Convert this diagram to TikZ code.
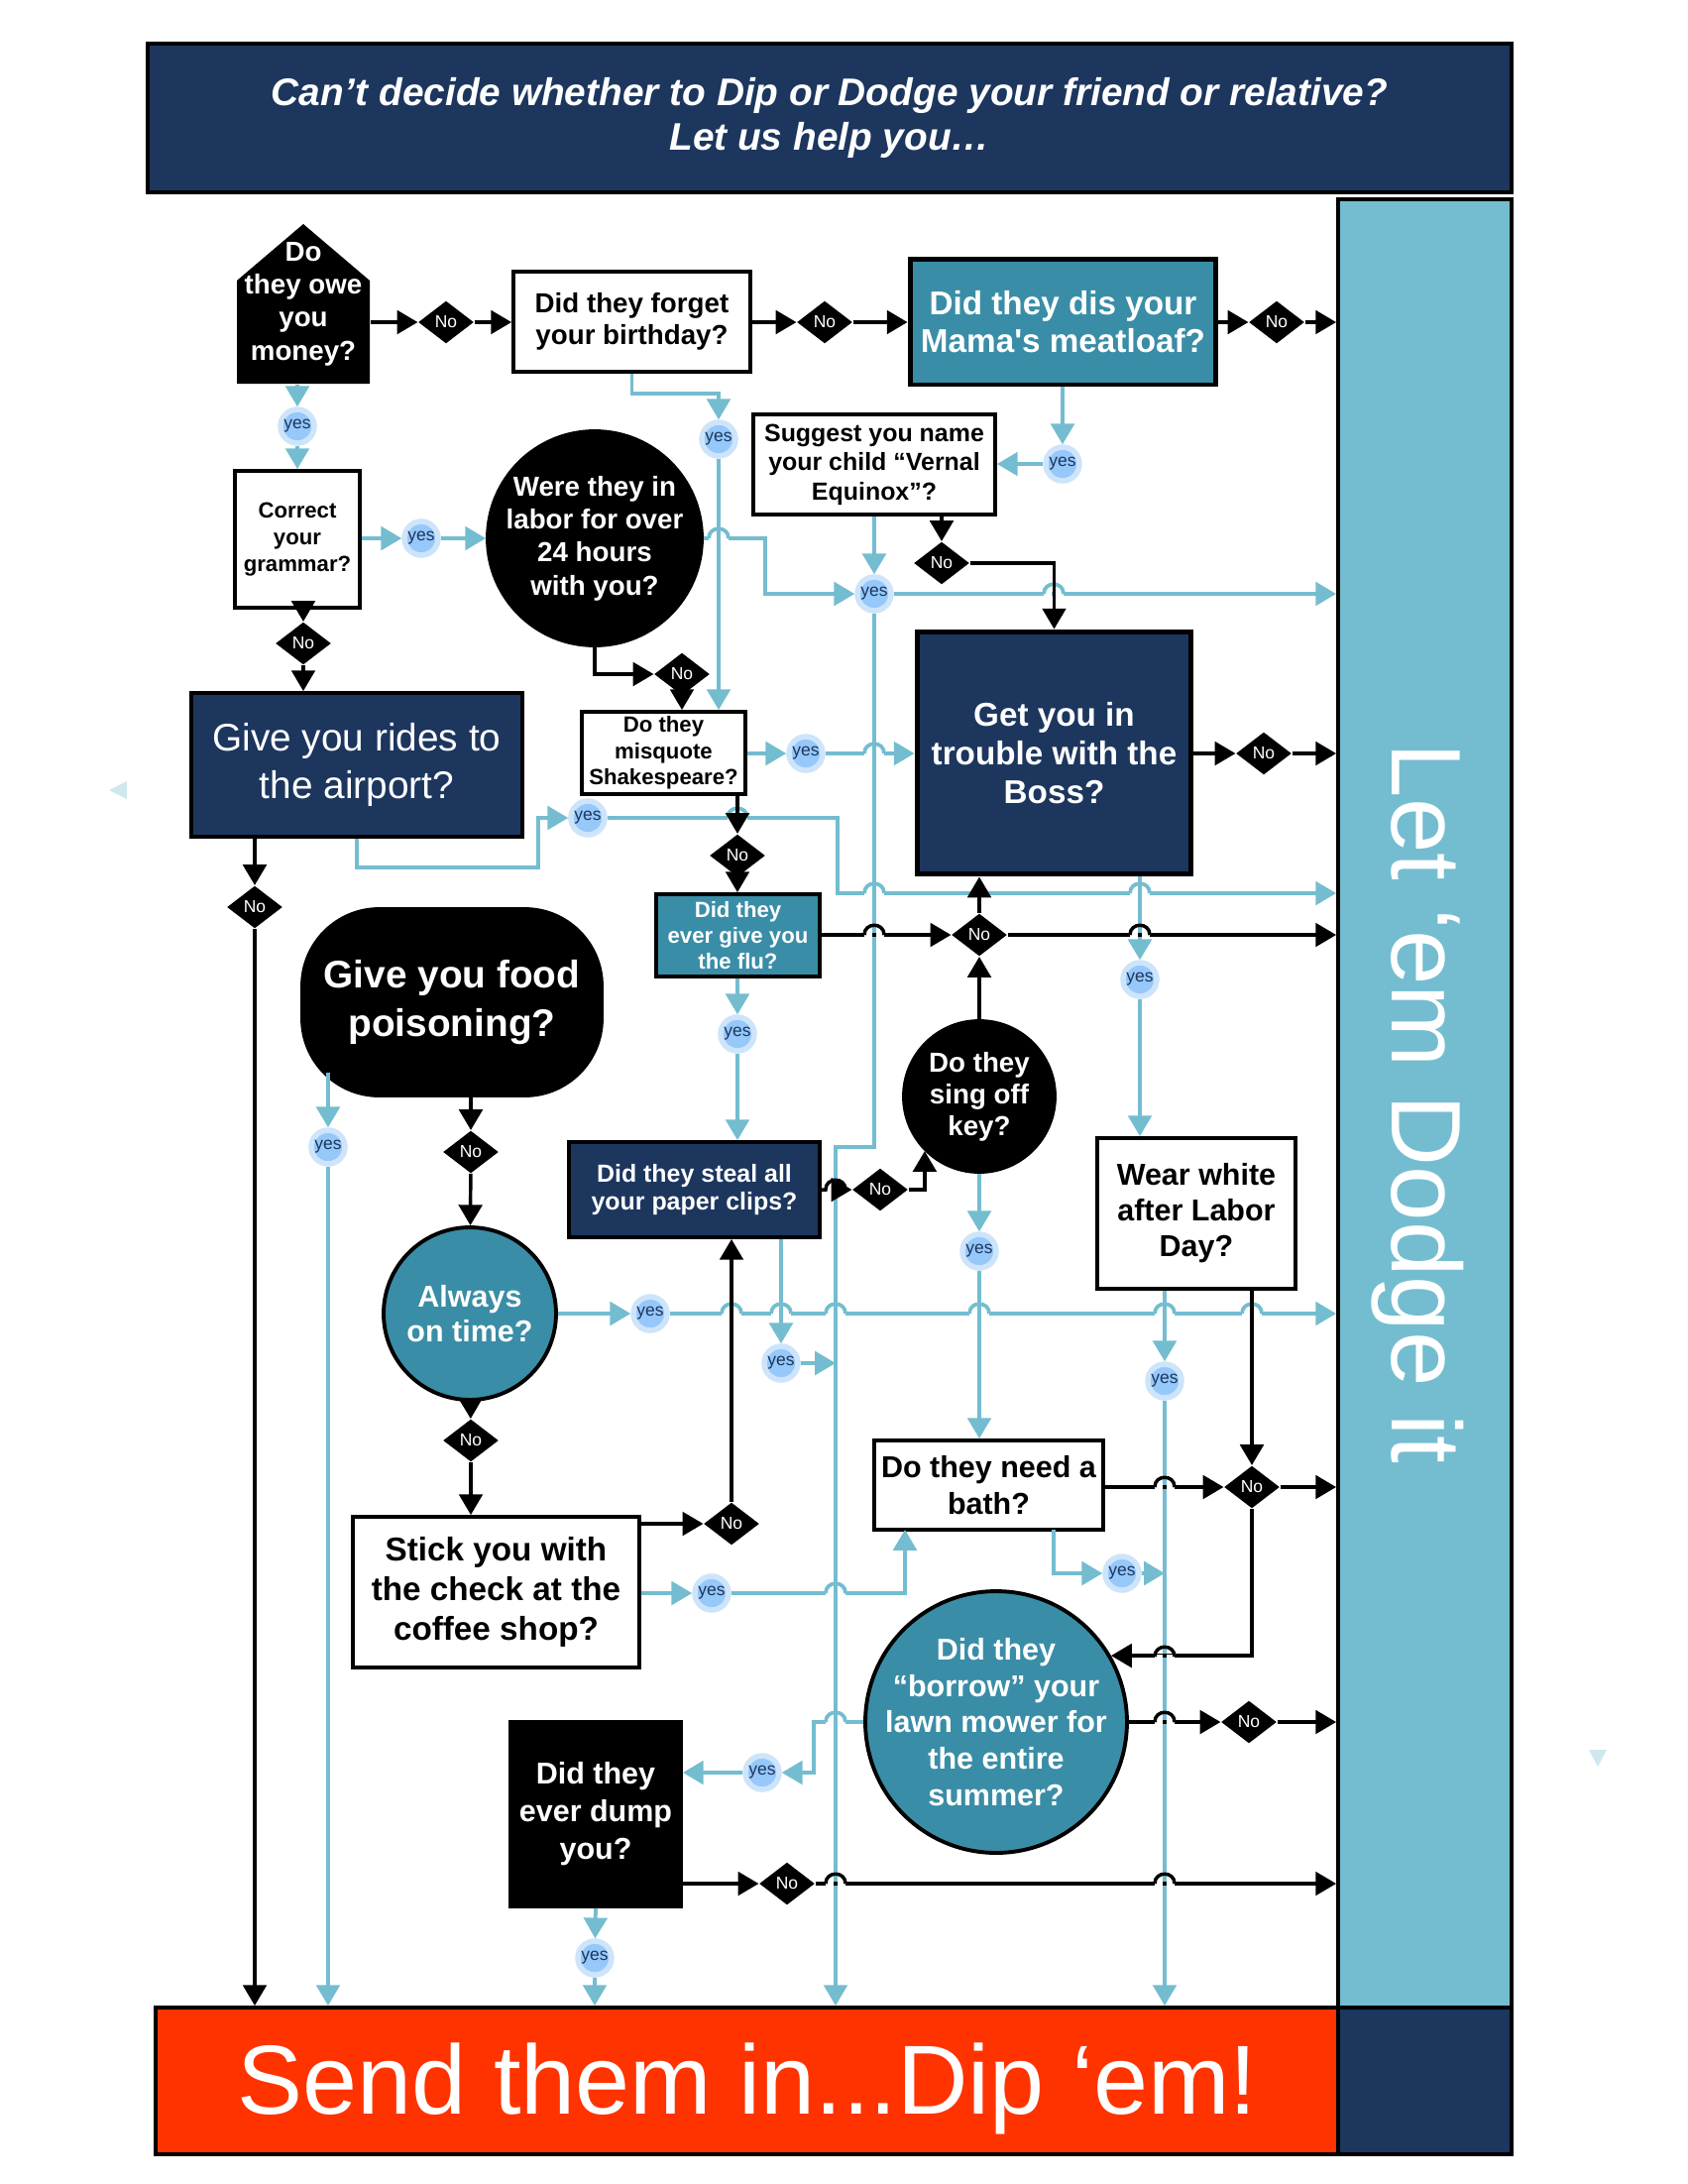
\documentclass[tikz,border=0pt]{standalone}
\usepackage{fontspec}
\setmainfont{Liberation Sans}
\usetikzlibrary{arrows.meta,shapes.geometric}

\definecolor{dipnavy}{RGB}{28,54,94}
\definecolor{dipteal}{RGB}{58,141,166}
\definecolor{dodgeblue}{RGB}{116,189,208}
\definecolor{yesfill}{RGB}{150,200,250}
\definecolor{yesglow}{RGB}{205,228,250}
\definecolor{dipred}{RGB}{255,51,0}

\newcommand\linehop[3]{%
  \fill[white] (#1-10,#2-2.5) rectangle (#1-2.2,#2+2.5);
  \fill[white] (#1+2.2,#2-2.5) rectangle (#1+10,#2+2.5);
  \draw[#3] (#1-10,#2) .. controls (#1-10,#2-13) and (#1+10,#2-13) .. (#1+10,#2);
}

\begin{document}
\begin{tikzpicture}[x=0.012678cm, y=-0.012678cm,
  wh/.style 2 args={minimum width=#1*0.3607pt, minimum height=#2*0.3607pt},
  fs/.style 2 args={font=\fontsize{#1}{#2}\selectfont\bfseries},
  qbox/.style={draw=black, line width=1.4pt, fill=white, text=black, inner sep=0pt, align=center},
  qnavy/.style={qbox, fill=dipnavy, text=white},
  qteal/.style={qbox, fill=dipteal, text=white},
  qblack/.style={qbox, fill=black, text=white},
  nomark/.style={diamond, aspect=1.3, fill=black, text=white, inner sep=0pt, wh={56}{43}, font=\fontsize{6.3}{7}\selectfont},
  yesmark/.style={circle, fill=yesfill, draw=yesglow, line width=2pt, inner sep=0pt, minimum size=34*0.3607pt, text=dipnavy, font=\fontsize{6.3}{7}\selectfont},
  blk/.style={draw=black, line width=1.25pt},
  blu/.style={draw=dodgeblue, line width=1.35pt},
  noline/.style={blk, -{Triangle[length=7.5pt,width=8.5pt]}},
  yesline/.style={blu, -{Triangle[length=7.5pt,width=8.5pt]}}]
\useasboundingbox (0,0) rectangle (1703,2203);

\node[qnavy, line width=1.2pt, wh={1376}{150}, font=\fontsize{14}{16.5}\selectfont\bfseries\itshape] (head) at (837,119)
  {Can’t decide whether to Dip or Dodge your friend or relative?\\Let us help you…};
\node[qbox, fill=dodgeblue, wh={175}{1824}] (dodge) at (1437.5,1113) {};
\node[qnavy, wh={175}{148}] (corner) at (1437.5,2099) {};
\node[qbox, fill=dipred, wh={1193}{148}] (send) at (753.5,2099) {};
\node[anchor=base, rotate=-90, text=white, inner sep=0pt, font=\fontsize{36}{40}\selectfont] (dodgetext) at (1404,1113) {Let ‘em Dodge it};
\node[anchor=base, text=white, inner sep=0pt, font=\fontsize{35.7}{40}\selectfont] (sendtext) at (754,2132) {Send them in...Dip ‘em!};

\fill (239,387) -- (239,283) -- (306,226) -- (373,283) -- (373,387) -- cycle;
\node[align=center, text=white, inner sep=0pt, wh={134}{161}, fs={10}{12}] (owe) at (306,306.5) {Do\\they owe\\you\\money?};
\node[qbox, wh={239}{101}, fs={10}{11.5}] (forget) at (637.5,324.5) {Did they forget\\your birthday?};
\node[qteal, line width=1.8pt, wh={309}{127}, fs={12}{13.7}] (meat) at (1072.5,324.5) {Did they dis your\\Mama\textquotesingle s meatloaf?};
\node[qbox, wh={126}{138}, fs={8}{9.6}] (gram) at (300,544) {Correct\\your\\grammar?};
\node[qblack, circle, inner sep=-4pt, minimum size=216*0.3607pt, fs={10}{12}] (were) at (600,543) {Were they in\\labor for over\\24 hours\\with you?};
\node[qbox, wh={244}{101}, fs={9}{10.6}] (sugg) at (882,468.5) {Suggest you name\\your child “Vernal\\Equinox”?};
\node[qnavy, wh={334}{145}, font=\fontsize{14}{17}\selectfont] (rides) at (360,771.5) {Give you rides to\\the airport?};
\node[qbox, wh={165}{83}, fs={8}{9.6}] (misq) at (669.5,759.5) {Do they\\misquote\\Shakespeare?};
\node[qnavy, line width=1.8pt, wh={277}{245}, fs={12}{14}] (boss) at (1063.5,759.5) {Get you in\\trouble with the\\Boss?};
\node[qteal, wh={165}{83}, fs={8}{9.4}] (flu) at (744.5,943.5) {Did they\\ever give you\\the flu?};
\node[qblack, rounded corners=28pt, wh={302}{188}, fs={14}{18}] (food) at (456,1011) {Give you food\\poisoning?};
\node[qblack, circle, minimum size=152*0.3607pt, fs={10}{11.5}] (sing) at (988,1106) {Do they\\sing off\\key?};
\node[qnavy, wh={253}{96}, fs={9}{10}] (clips) at (700.5,1200) {Did they steal all\\your paper clips?};
\node[qbox, wh={200}{152}, fs={11}{13}] (wear) at (1207,1224) {Wear white\\after Labor\\Day?};
\node[qteal, circle, minimum size=174*0.3607pt, fs={11}{12.6}] (always) at (474,1325) {Always\\on time?};
\node[qbox, wh={231}{90}, fs={11}{13.3}] (bath) at (997.5,1498) {Do they need a\\bath?};
\node[qbox, wh={289}{152}, fs={12}{14.4}] (stick) at (500.5,1606) {Stick you with\\the check at the\\coffee shop?};
\node[qteal, circle, inner sep=-8pt, minimum size=264*0.3607pt, fs={11}{13.3}] (lawn) at (1005,1737) {Did they\\“borrow” your\\lawn mower for\\the entire\\summer?};
\node[qblack, wh={172}{186}, fs={11}{13.7}] (dump) at (601,1830) {Did they\\ever dump\\you?};

\node[nomark] (n1) at (450,325) {No};
\node[nomark] (n2) at (832,325) {No};
\node[nomark] (n3) at (1288,325) {No};
\node[nomark] (n4) at (306,649) {No};
\node[nomark] (n5) at (688,680) {No};
\node[nomark] (n6) at (950,568) {No};
\node[nomark] (n7) at (257,915) {No};
\node[nomark] (n8) at (744,863) {No};
\node[nomark] (n9) at (988,943) {No};
\node[nomark] (n10) at (1275,760) {No};
\node[nomark] (n11) at (475,1162) {No};
\node[nomark] (n12) at (888,1200) {No};
\node[nomark] (n13) at (475,1453) {No};
\node[nomark] (n14) at (738,1537) {No};
\node[nomark] (n15) at (1263,1500) {No};
\node[nomark] (n16) at (1260,1737) {No};
\node[nomark] (n17) at (794,1900) {No};

\node[yesmark] (y1) at (300,430) {yes};
\node[yesmark] (y2) at (425,543) {yes};
\node[yesmark] (y3) at (725,443) {yes};
\node[yesmark] (y4) at (1072,468) {yes};
\node[yesmark] (y5) at (882,599) {yes};
\node[yesmark] (y6) at (813,760) {yes};
\node[yesmark] (y7) at (593,825) {yes};
\node[yesmark] (y8) at (1150,988) {yes};
\node[yesmark] (y9) at (744,1043) {yes};
\node[yesmark] (y10) at (331,1157) {yes};
\node[yesmark] (y11) at (656,1325) {yes};
\node[yesmark] (y12) at (788,1375) {yes};
\node[yesmark] (y13) at (988,1262) {yes};
\node[yesmark] (y14) at (1175,1393) {yes};
\node[yesmark] (y15) at (718,1607) {yes};
\node[yesmark] (y16) at (1132,1587) {yes};
\node[yesmark] (y17) at (769,1788) {yes};
\node[yesmark] (y18) at (600,1975) {yes};

\coordinate (drop) at (843,1157);
\coordinate (rbend) at (845,901);
\coordinate (ridesbend) at (543,875);
\coordinate (foodyes) at (331,1082);
\coordinate (bathin) at (913,1543);
\coordinate (bathout) at (1063,1543);

\draw[yesline] (owe.south -| y1) -- (y1);
\draw[yesline] (y1) -- (y1 |- gram.north);
\draw[yesline] (gram.east |- y2) -- (y2);
\draw[yesline] (y2) -- (were);
\draw[yesline] (forget.south) -- ++(0,20) -| (y3);
\draw[yesline] (y3) -- (y3 |- misq.north);
\draw[yesline] (meat.south -| y4) -- (y4);
\draw[yesline] (y4) -- (y4 -| sugg.east);
\draw[yesline] (were.east) -- ++(62,0) |- (y5);
\draw[yesline] (sugg.south -| y5) -- (y5);
\draw[yesline] (y5) -- (y5 -| dodge.west);
\draw[yesline] (y5) |- (drop) -- (drop |- send.north);
\draw[yesline] (misq.east |- y6) -- (y6);
\draw[yesline] (y6) -- (y6 -| boss.west);
\draw[yesline] (rides.south) |- (ridesbend) |- (y7);
\draw[yesline] (y7) -| (rbend) -- (rbend -| dodge.west);
\draw[yesline] (boss.south -| y8) -- (y8);
\draw[yesline] (y8) -- (y8 |- wear.north);
\draw[yesline] (flu.south -| y9) -- (y9);
\draw[yesline] (y9) -- (y9 |- clips.north);
\draw[yesline] (foodyes) -- (y10);
\draw[yesline] (y10) -- (y10 |- send.north);
\draw[yesline] (always) -- (y11);
\draw[yesline] (y11) -- (y11 -| dodge.west);
\draw[yesline] (clips.south -| y12) -- (y12);
\draw[yesline] (y12) -- (y12 -| drop);
\draw[yesline] (sing) -- (y13);
\draw[yesline] (y13) -- (y13 |- bath.north);
\draw[yesline] (wear.south -| y14) -- (y14);
\draw[yesline] (y14) -- (y14 |- send.north);
\draw[yesline] (stick.east |- y15) -- (y15);
\draw[yesline] (y15) -| (bathin);
\draw[yesline] (bathout) |- (y16);
\draw[yesline] (y16) -- (y16 -| y14);
\draw[yesline] (lawn.west) -- ++(-50,0) |- (y17);
\draw[yesline] (y17) -- (y17 -| dump.east);
\draw[yesline] (dump.south) -- (y18);
\draw[yesline] (y18) -- (y18 |- send.north);

\linehop{725}{543}{blu}
\linehop{1063}{599}{blu}
\linehop{744}{825}{blu}
\linehop{882}{760}{blu}
\linehop{882}{901}{blu}
\linehop{1150}{901}{blu}
\linehop{738}{1325}{blu}
\linehop{788}{1325}{blu}
\linehop{843}{1325}{blu}
\linehop{988}{1325}{blu}
\linehop{1175}{1325}{blu}
\linehop{1263}{1325}{blu}
\linehop{843}{1607}{blu}
\linehop{843}{1737}{blu}

\draw[noline] (owe.east |- n1) -- (n1);
\draw[noline] (n1) -- (n1 -| forget.west);
\draw[noline] (forget.east |- n2) -- (n2);
\draw[noline] (n2) -- (n2 -| meat.west);
\draw[noline] (meat.east |- n3) -- (n3);
\draw[noline] (n3) -- (n3 -| dodge.west);
\draw[noline] (gram.south -| n4) -- (n4);
\draw[noline] (n4) -- (n4 |- rides.north);
\draw[noline] (were.south) |- (n5);
\draw[noline] (n5) -- (n5 |- misq.north);
\draw[noline] (sugg.south -| n6) -- (n6);
\draw[noline] (n6) -| (boss.north);
\draw[noline] (rides.south -| n7) -- (n7);
\draw[noline] (n7) -- (n7 |- send.north);
\draw[noline] (misq.south -| n8) -- (n8);
\draw[noline] (n8) -- (n8 |- flu.north);
\draw[noline] (flu.east |- n9) -- (n9);
\draw[noline] (sing) -- (n9);
\draw[noline] (n9) -- (n9 |- boss.south);
\draw[noline] (n9) -- (n9 -| dodge.west);
\draw[noline] (boss.east |- n10) -- (n10);
\draw[noline] (n10) -- (n10 -| dodge.west);
\draw[noline] (food.south -| n11) -- (n11);
\draw[noline] (n11) -- (always);
\draw[noline] (clips.east |- n12) -- (833,1200) .. controls (833,1187) and (853,1187) .. (853,1200) -- (n12);
\draw[noline] (n12) -| (sing.-135);
\draw[noline] (always) -- (n13);
\draw[noline] (n13) -- (n13 |- stick.north);
\draw[noline] (stick.east |- n14) -- (n14);
\draw[noline] (n14) -- (n14 |- clips.south);
\draw[noline] (wear.south -| n15) -- (n15);
\draw[noline] (bath.east |- n15) -- (n15);
\draw[noline] (n15) -- (n15 -| dodge.west);
\draw[noline] (n15) |- (lawn.30);
\draw[noline] (lawn.east |- n16) -- (n16);
\draw[noline] (n16) -- (n16 -| dodge.west);
\draw[noline] (dump.east |- n17) -- (n17);
\draw[noline] (n17) -- (n17 -| dodge.west);

\linehop{882}{943}{blk}
\linehop{1150}{943}{blk}
\linehop{1175}{1500}{blk}
\linehop{1175}{1671}{blk}
\linehop{1175}{1737}{blk}
\linehop{843}{1900}{blk}
\linehop{1175}{1900}{blk}

\fill[dodgeblue!35] (110,797) -- (128,788) -- (128,806) -- cycle;
\fill[dodgeblue!35] (1603,1765) -- (1621,1765) -- (1612,1782) -- cycle;
\end{tikzpicture}
\end{document}
